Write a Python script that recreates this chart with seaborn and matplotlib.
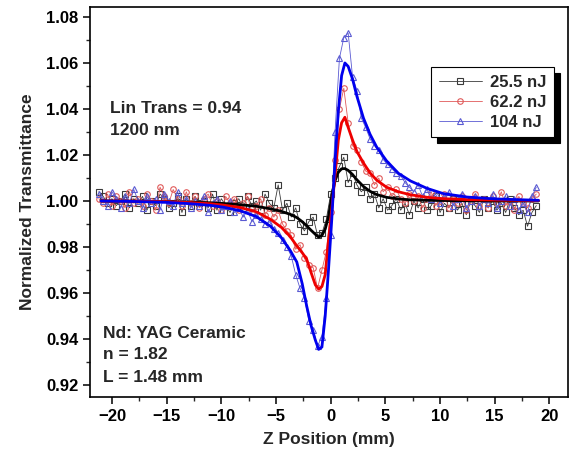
import numpy as np
import pandas as pd
import matplotlib
matplotlib.use("Agg")
import matplotlib.pyplot as plt
import seaborn as sns

# z-scan stage positions (mm)
z_data = [-21.2, -20.8, -20.4, -20.0, -19.6, -19.2, -18.8, -18.4, -18.0, -17.6,
          -17.2, -16.8, -16.4, -16.0, -15.6, -15.2, -14.8, -14.4, -14.0, -13.6,
          -13.2, -12.8, -12.4, -12.0, -11.6, -11.2, -10.8, -10.4, -10.0, -9.6,
          -9.2, -8.8, -8.4, -8.0, -7.6, -7.2, -6.8, -6.4, -6.0, -5.6,
          -5.2, -4.8, -4.4, -4.0, -3.6, -3.2, -2.8, -2.4, -2.0, -1.6,
          -1.2, -0.8, -0.4, 0.0, 0.4, 0.8, 1.2, 1.6, 2.0, 2.4,
          2.8, 3.2, 3.6, 4.0, 4.4, 4.8, 5.2, 5.6, 6.0, 6.4,
          6.8, 7.2, 7.6, 8.0, 8.4, 8.8, 9.2, 9.6, 10.0, 10.4,
          10.8, 11.2, 11.6, 12.0, 12.4, 12.8, 13.2, 13.6, 14.0, 14.4,
          14.8, 15.2, 15.6, 16.0, 16.4, 16.8, 17.2, 17.6, 18.0, 18.4,
          18.8]

t_25 = [1.004, 1.002, 0.999, 1.001, 0.998, 1.000, 1.003, 0.997, 1.001, 0.999,
        1.002, 0.996, 1.000, 0.998, 1.003, 1.001, 0.997, 0.999, 1.002, 0.995,
        1.001, 0.998, 1.002, 0.999, 1.000, 0.997, 1.003, 0.996, 1.001, 0.998,
        0.995, 0.999, 1.001, 0.997, 1.002, 0.998, 1.000, 0.996, 1.003, 0.999,
        0.997, 1.007, 0.996, 0.999, 0.993, 0.997, 0.990, 0.987, 0.991, 0.993,
        0.985, 0.986, 0.992, 1.003, 1.010, 1.015, 1.019, 1.008, 1.012, 1.007,
        1.004, 1.006, 1.001, 1.003, 0.997, 1.001, 0.996, 0.998, 1.001, 0.996,
        0.999, 0.994, 1.000, 0.997, 1.001, 0.996, 0.998, 1.002, 0.995, 0.999,
        0.997, 1.001, 0.996, 0.999, 0.994, 1.000, 0.998, 0.995, 1.001, 0.997,
        1.000, 0.996, 0.999, 0.995, 1.001, 0.997, 0.994, 0.996, 0.989, 0.995,
        0.998]

t_62 = [1.001, 0.999, 1.003, 0.998, 1.002, 1.000, 0.997, 1.004, 0.999, 1.001,
        0.998, 1.003, 1.000, 0.996, 1.006, 1.002, 0.999, 1.005, 1.001, 0.998,
        1.004, 0.999, 1.002, 0.997, 1.001, 1.003, 0.998, 1.000, 0.996, 1.002,
        0.999, 1.001, 0.996, 0.999, 1.002, 0.995, 0.998, 1.001, 0.994, 0.997,
        0.993, 0.996, 0.990, 0.987, 0.985, 0.979, 0.981, 0.975, 0.972, 0.971,
        0.962, 0.970, 0.978, 0.995, 1.018, 1.040, 1.049, 1.034, 1.024, 1.022,
        1.017, 1.013, 1.012, 1.007, 1.010, 1.004, 1.006, 1.002, 1.005, 1.001,
        0.999, 1.003, 1.000, 1.002, 0.997, 1.001, 1.004, 0.998, 1.000, 1.003,
        0.997, 1.001, 0.999, 1.002, 0.996, 1.000, 1.003, 0.998, 1.001, 0.997,
        1.002, 0.999, 1.004, 0.998, 1.000, 0.996, 1.002, 0.999, 0.997, 1.001,
        1.003]

t_104 = [1.003, 1.000, 0.998, 1.004, 1.001, 0.997, 1.002, 0.999, 1.005, 1.000,
         0.997, 1.002, 0.999, 1.001, 0.996, 1.003, 1.000, 0.998, 1.004, 0.999,
         1.001, 0.997, 1.000, 0.998, 1.002, 0.995, 0.999, 1.001, 0.996, 0.998,
         1.000, 0.995, 0.997, 0.993, 0.996, 0.991, 0.994, 0.992, 0.990, 0.991,
         0.988, 0.986, 0.983, 0.980, 0.976, 0.968, 0.962, 0.958, 0.948, 0.944,
         0.937, 0.941, 0.958, 0.985, 1.030, 1.062, 1.071, 1.073, 1.054, 1.048,
         1.036, 1.032, 1.027, 1.024, 1.022, 1.018, 1.016, 1.014, 1.012, 1.011,
         1.008, 1.006, 1.004, 1.007, 1.002, 1.005, 1.001, 1.003, 0.999, 1.002,
         1.004, 0.998, 1.001, 1.003, 0.997, 1.000, 1.002, 0.998, 1.001, 0.999,
         1.003, 0.997, 1.000, 1.002, 0.998, 1.001, 0.996, 0.999, 0.995, 1.002,
         1.006]

# fitted curves
z_fit = [-21, -18, -15, -12.8, -11, -9.8, -8.3, -6.8, -5.5, -4.5,
         -3.7, -3.1, -2.6, -2.2, -1.8, -1.4, -1.1, -0.8, -0.5, -0.2,
         0.1, 0.4, 0.7, 1.0, 1.3, 1.6, 2.0, 2.4, 3.0, 3.6,
         4.2, 5.1, 6.2, 7.3, 8.8, 10.3, 12.5, 15, 19]

fit_25 = [1.0000, 0.9999, 0.9997, 0.9995, 0.9992, 0.9989, 0.9984, 0.9977, 0.9966, 0.9955,
          0.9942, 0.9928, 0.9910, 0.9892, 0.9873, 0.9855, 0.9843, 0.9850, 0.9878, 0.9932,
          1.0020, 1.0088, 1.0125, 1.0140, 1.0141, 1.0133, 1.0115, 1.0092, 1.0063, 1.0042,
          1.0028, 1.0016, 1.0009, 1.0005, 1.0003, 1.0002, 1.0001, 1.0000, 1.0000]

fit_62 = [1.0000, 0.9999, 0.9997, 0.9993, 0.9988, 0.9982, 0.9972, 0.9953, 0.9920, 0.9885,
          0.9845, 0.9805, 0.9775, 0.9748, 0.9690, 0.9635, 0.9617, 0.9628, 0.9680, 0.9830,
          0.9965, 1.0110, 1.0265, 1.0340, 1.0364, 1.0320, 1.0265, 1.0215, 1.0165, 1.0122,
          1.0091, 1.0060, 1.0040, 1.0027, 1.0016, 1.0010, 1.0006, 1.0004, 1.0002]

fit_104 = [1.0000, 0.9998, 0.9994, 0.9988, 0.9981, 0.9973, 0.9958, 0.9932, 0.9890, 0.9840,
           0.9785, 0.9735, 0.9640, 0.9545, 0.9460, 0.9395, 0.9355, 0.9365, 0.9500, 0.9700,
           0.9920, 1.0175, 1.0390, 1.0545, 1.0600, 1.0585, 1.0530, 1.0455, 1.0360, 1.0290,
           1.0235, 1.0175, 1.0120, 1.0087, 1.0055, 1.0032, 1.0017, 1.0009, 1.0003]

labels = ["25.5 nJ", "62.2 nJ", "104 nJ"]
markers = ["s", "o", "^"]
data_colors = ["#3a3a3a", "#e05a5a", "#5a5ad2"]
fit_colors = ["black", "#ee0000", "#0000ee"]

sns.set_style("ticks")
plt.rcParams["font.family"] = ["Liberation Sans", "DejaVu Sans"]
plt.rcParams["font.weight"] = "bold"

fig = plt.figure(figsize=(5.7, 4.55), dpi=100)
ax = fig.add_axes([0.158, 0.1275, 0.8385, 0.857])

for t, lab, mk, col in zip([t_25, t_62, t_104], labels, markers, data_colors):
    sns.lineplot(x=z_data, y=t, ax=ax, color=col, lw=0.6, marker=mk, markersize=4,
                 markerfacecolor="none", markeredgecolor=col, markeredgewidth=0.8,
                 estimator=None, sort=False, label=lab)

for f, col in zip([fit_25, fit_62, fit_104], fit_colors):
    sns.lineplot(x=z_fit, y=f, ax=ax, color=col, lw=2.0, estimator=None, sort=False,
                 legend=False)

ax.set_xlim(-22, 21.7)
ax.set_ylim(0.9148, 1.0843)
ax.set_xticks([-20, -15, -10, -5, 0, 5, 10, 15, 20])
ax.set_xticks(np.arange(-20, 21, 2.5), minor=True)
ax.set_yticks([0.92, 0.94, 0.96, 0.98, 1.00, 1.02, 1.04, 1.06, 1.08])
ax.set_yticks(np.arange(0.92, 1.081, 0.01), minor=True)
ax.yaxis.set_major_formatter(plt.FormatStrFormatter("%.2f"))
ax.tick_params(axis="both", which="major", direction="out", length=5, width=1.1,
               labelsize=12, colors="black")
ax.tick_params(axis="both", which="minor", direction="out", length=3, width=1.0)
for sp in ax.spines.values():
    sp.set_visible(True)
    sp.set_linewidth(1.2)
    sp.set_color("black")

ax.set_xlabel("Z Position (mm)", fontsize=12.5, fontweight="bold", labelpad=6)
ax.set_ylabel("Normalized Transmittance", fontsize=12.5, fontweight="bold", labelpad=8)

ax.text(-20.2, 1.0383, "Lin Trans = 0.94", fontsize=12.5, fontweight="bold", va="baseline")
ax.text(-20.2, 1.0287, "1200 nm", fontsize=12.5, fontweight="bold", va="baseline")
ax.text(-20.8, 0.9406, "Nd: YAG Ceramic", fontsize=12.5, fontweight="bold", va="baseline")
ax.text(-20.8, 0.9313, "n = 1.82", fontsize=12.5, fontweight="bold", va="baseline")
ax.text(-20.8, 0.9214, "L = 1.48 mm", fontsize=12.5, fontweight="bold", va="baseline")

leg = ax.legend(loc="upper right", bbox_to_anchor=(0.971, 0.846), borderaxespad=0,
                fontsize=12, fancybox=False, framealpha=1, edgecolor="black",
                handlelength=2.6, labelspacing=0.3, borderpad=0.45, handletextpad=0.5,
                shadow={"ox": 4, "oy": -4, "color": "black", "alpha": 1})
leg.get_frame().set_linewidth(0.8)

fig.savefig("out.png", dpi=100)
